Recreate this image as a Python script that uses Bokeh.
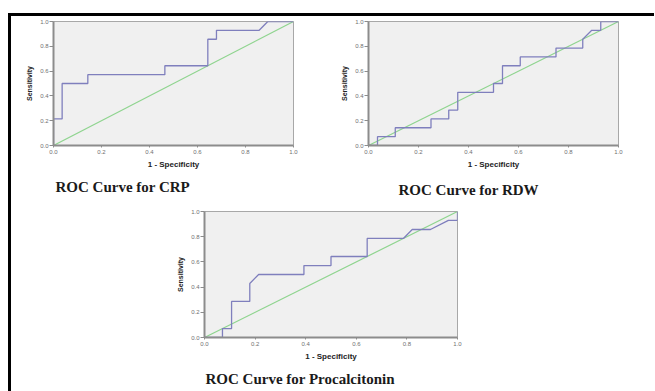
from bokeh.plotting import figure
from bokeh.layouts import column, row
from bokeh.models import Spacer, Title, FixedTicker, NumeralTickFormatter, Range1d
from bokeh.embed import file_html
from bokeh.resources import INLINE

# ---- data -------------------------------------------------------------
ticks = [0.0, 0.2, 0.4, 0.6, 0.8, 1.0]
x_label = "1 - Specificity"
y_label = "Sensitivity"
ref_x = [0.0, 1.0]
ref_y = [0.0, 1.0]

crp_title = "ROC Curve for CRP"
crp_fpr = [0, 0, 0.036, 0.036, 0.143, 0.143, 0.464, 0.464, 0.643, 0.643, 0.679, 0.679, 0.857, 0.893, 1.0]
crp_tpr = [0, 0.214, 0.214, 0.5, 0.5, 0.571, 0.571, 0.643, 0.643, 0.857, 0.857, 0.929, 0.929, 1.0, 1.0]

rdw_title = "ROC Curve for RDW"
rdw_fpr = [0, 0.036, 0.036, 0.107, 0.107, 0.25, 0.25, 0.321, 0.321, 0.357, 0.357, 0.5, 0.5,
           0.536, 0.536, 0.607, 0.607, 0.75, 0.75, 0.857, 0.857, 0.893, 0.929, 0.929, 1.0]
rdw_tpr = [0, 0, 0.071, 0.071, 0.143, 0.143, 0.214, 0.214, 0.286, 0.286, 0.429, 0.429, 0.5,
           0.5, 0.643, 0.643, 0.714, 0.714, 0.786, 0.786, 0.857, 0.929, 0.929, 1.0, 1.0]

pct_title = "ROC Curve for Procalcitonin"
pct_fpr = [0, 0.071, 0.071, 0.107, 0.107, 0.179, 0.179, 0.214, 0.393, 0.393, 0.5, 0.5,
           0.643, 0.643, 0.786, 0.821, 0.893, 0.964, 1.0, 1.0]
pct_tpr = [0, 0, 0.071, 0.071, 0.286, 0.286, 0.429, 0.5, 0.5, 0.571, 0.571, 0.643,
           0.643, 0.786, 0.786, 0.857, 0.857, 0.929, 0.929, 1.0]

CURVE = "#7f7fbd"
DIAG = "#8fd48f"
AXIS = "#8c8c8c"


def make(fpr, tpr, title, fw, fh, bl, bt, br, bb, t_offset, t_pad):
    p = figure(width=bl + fw + br, height=bt + fh + bb,
               x_range=Range1d(0, 1), y_range=Range1d(0, 1),
               output_backend="svg", toolbar_location=None,
               min_border_left=bl, min_border_right=br,
               min_border_top=bt, min_border_bottom=bb)
    p.background_fill_color = "#f0f0f0"
    p.border_fill_color = "white"
    p.outline_line_color = "#a8a8a8"
    p.grid.visible = False

    for ax in (p.xaxis[0], p.yaxis[0]):
        ax.ticker = FixedTicker(ticks=ticks)
        ax.formatter = NumeralTickFormatter(format="0.0")
        ax.axis_line_color = AXIS
        ax.axis_line_width = 2
        ax.major_tick_line_color = AXIS
        ax.major_tick_in = 0
        ax.minor_tick_line_color = None
        ax.major_label_text_font = "Liberation Sans"
        ax.major_label_text_font_size = "6px"
        ax.major_label_text_color = "#707070"
        ax.axis_label_text_font_style = "bold"
        ax.axis_label_text_color = "#222222"

    p.xaxis.major_tick_out = 2
    p.xaxis.major_label_standoff = 2
    p.xaxis.axis_label = x_label
    p.xaxis.axis_label_text_font = "Liberation Sans"
    p.xaxis.axis_label_text_font_size = "8px"
    p.xaxis.axis_label_standoff = 3

    p.yaxis.major_tick_out = 4
    p.yaxis.major_label_standoff = 1
    p.yaxis.axis_label = y_label
    p.yaxis.axis_label_text_font = "Liberation Sans Narrow, Liberation Sans"
    p.yaxis.axis_label_text_font_size = "7px"
    p.yaxis.axis_label_standoff = 4

    p.line(ref_x, ref_y, line_color=DIAG, line_width=1.2)
    p.line(fpr, tpr, line_color=CURVE, line_width=1.3)

    t = Title(text=title, align="left", offset=t_offset, standoff=5,
              padding=dict(top=t_pad, bottom=0, left=0, right=0),
              text_font="Liberation Serif", text_font_size="15px",
              text_font_style="bold", text_color="#1a1a1a")
    p.add_layout(t, "below")
    return p


p1 = make(crp_fpr, crp_tpr, crp_title, 240, 128, 42, 5, 35, 51, 2, 3)
p2 = make(rdw_fpr, rdw_tpr, rdw_title, 250, 134, 40, 5, 36, 45, 30, 6)
p3 = make(pct_fpr, pct_tpr, pct_title, 253, 136, 40, 11, 30, 42, 1, 3)

BLACK = {"background-color": "black"}
content = column(row(p1, p2), row(Spacer(width=153, height=10), p3))
layout = column(
    Spacer(width=10, height=13),
    row(Spacer(width=8, height=3), Spacer(width=646, height=3, styles=BLACK)),
    row(Spacer(width=8, height=374), Spacer(width=3, height=375, styles=BLACK), content),
)

open("out.html", "w").write(file_html(layout, INLINE))
